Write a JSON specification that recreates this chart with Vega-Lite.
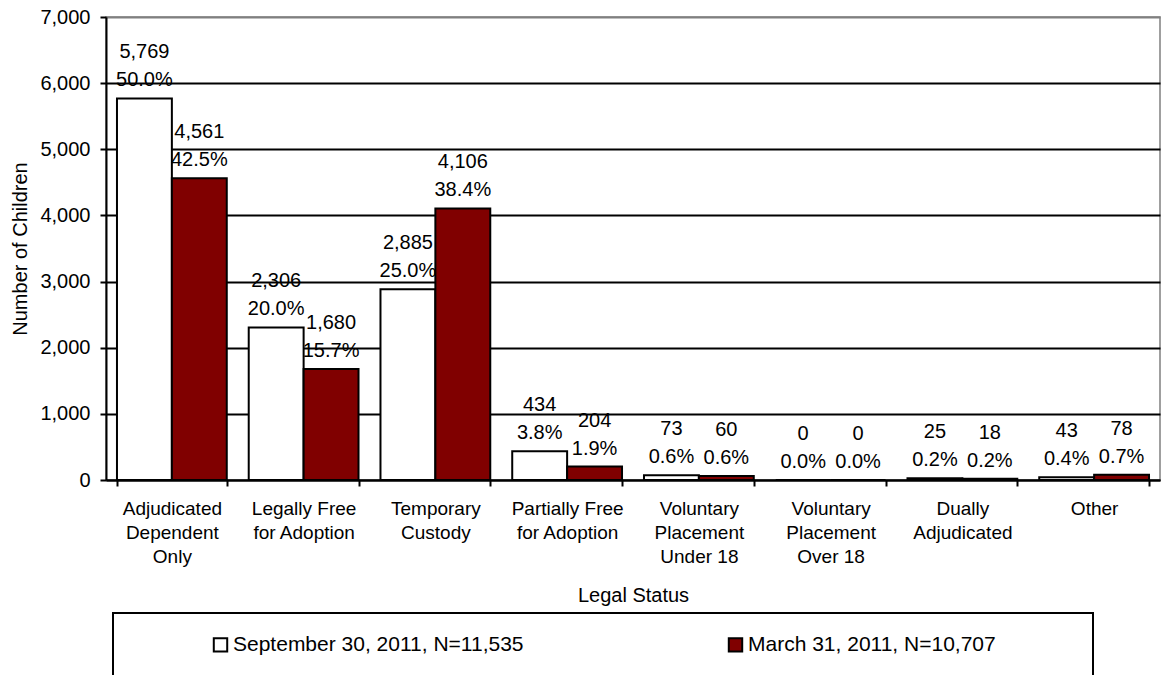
{
  "$schema": "https://vega.github.io/schema/vega-lite/v6.json",
  "width": 1054,
  "height": 463,
  "autosize": {"type": "none"},
  "padding": {"left": 106, "top": 17, "right": 2, "bottom": 195},
  "background": "white",
  "config": {
    "font": "Liberation Sans",
    "view": {"stroke": "#808080", "strokeWidth": 1.5},
    "legend": {"strokeWidth": 2}
  },
  "data": {
    "values": [
      {"status": "Adjudicated\nDependent\nOnly", "series": "September 30, 2011, N=11,535", "count": 5769, "pct": 0.500},
      {"status": "Adjudicated\nDependent\nOnly", "series": "March 31, 2011, N=10,707", "count": 4561, "pct": 0.425},
      {"status": "Legally Free\nfor Adoption", "series": "September 30, 2011, N=11,535", "count": 2306, "pct": 0.200},
      {"status": "Legally Free\nfor Adoption", "series": "March 31, 2011, N=10,707", "count": 1680, "pct": 0.157},
      {"status": "Temporary\nCustody", "series": "September 30, 2011, N=11,535", "count": 2885, "pct": 0.250},
      {"status": "Temporary\nCustody", "series": "March 31, 2011, N=10,707", "count": 4106, "pct": 0.384},
      {"status": "Partially Free\nfor Adoption", "series": "September 30, 2011, N=11,535", "count": 434, "pct": 0.038},
      {"status": "Partially Free\nfor Adoption", "series": "March 31, 2011, N=10,707", "count": 204, "pct": 0.019},
      {"status": "Voluntary\nPlacement\nUnder 18", "series": "September 30, 2011, N=11,535", "count": 73, "pct": 0.006},
      {"status": "Voluntary\nPlacement\nUnder 18", "series": "March 31, 2011, N=10,707", "count": 60, "pct": 0.006},
      {"status": "Voluntary\nPlacement\nOver 18", "series": "September 30, 2011, N=11,535", "count": 0, "pct": 0.0},
      {"status": "Voluntary\nPlacement\nOver 18", "series": "March 31, 2011, N=10,707", "count": 0, "pct": 0.0},
      {"status": "Dually\nAdjudicated", "series": "September 30, 2011, N=11,535", "count": 25, "pct": 0.002},
      {"status": "Dually\nAdjudicated", "series": "March 31, 2011, N=10,707", "count": 18, "pct": 0.002},
      {"status": "Other", "series": "September 30, 2011, N=11,535", "count": 43, "pct": 0.004},
      {"status": "Other", "series": "March 31, 2011, N=10,707", "count": 78, "pct": 0.007}
    ]
  },
  "encoding": {
    "x": {
      "field": "status",
      "type": "nominal",
      "sort": null,
      "scale": {"paddingInner": 0.1667, "paddingOuter": 0.0833},
      "axis": {
        "title": "Legal Status",
        "titleFontSize": 20,
        "titleFontWeight": "normal",
        "titleColor": "black",
        "titlePadding": 19,
        "labelAngle": 0,
        "labelFontSize": 19,
        "labelColor": "black",
        "labelLineHeight": 24,
        "labelPadding": 13,
        "labelExpr": "split(datum.label, '\\n')",
        "domainColor": "black",
        "domainWidth": 2,
        "tickColor": "black",
        "tickWidth": 2,
        "tickSize": 6,
        "tickBand": "extent"
      }
    },
    "xOffset": {
      "field": "series",
      "type": "nominal",
      "sort": ["September 30, 2011, N=11,535", "March 31, 2011, N=10,707"]
    },
    "y": {
      "field": "count",
      "type": "quantitative",
      "scale": {"domain": [0, 7000], "nice": false},
      "axis": {
        "title": "Number of Children",
        "titleFontSize": 20,
        "titleFontWeight": "normal",
        "titleColor": "black",
        "titlePadding": 9,
        "values": [0, 1000, 2000, 3000, 4000, 5000, 6000, 7000],
        "format": ",.0f",
        "labelFontSize": 20,
        "labelColor": "black",
        "labelPadding": 10,
        "domainColor": "black",
        "domainWidth": 2,
        "tickColor": "black",
        "tickWidth": 2,
        "tickSize": 6,
        "gridColor": {"condition": {"test": "datum.value === 7000", "value": "#808080"}, "value": "black"},
        "gridWidth": 2,
        "gridOpacity": 1
      }
    }
  },
  "layer": [
    {
      "mark": {"type": "bar", "stroke": "black", "strokeWidth": 2},
      "encoding": {
        "fill": {
          "field": "series",
          "type": "nominal",
          "sort": ["September 30, 2011, N=11,535", "March 31, 2011, N=10,707"],
          "scale": {"domain": ["September 30, 2011, N=11,535", "March 31, 2011, N=10,707"], "range": ["white", "#800000"]},
          "legend": {
            "title": " ",
            "titleOrient": "right",
            "titleFontSize": 1,
            "titlePadding": 76,
            "orient": "none",
            "legendX": 7,
            "legendY": 596,
            "direction": "horizontal",
            "columns": 2,
            "strokeColor": "black",
            "padding": 21,
            "symbolType": "square",
            "symbolSize": 180,
            "symbolStrokeColor": "black",
            "symbolStrokeWidth": 2,
            "symbolOffset": 76,
            "labelFontSize": 21,
            "labelColor": "black",
            "labelLimit": 600,
            "labelOffset": 2,
            "columnPadding": 125
          }
        }
      }
    },
    {
      "mark": {"type": "text", "fontSize": 20, "color": "black", "baseline": "middle", "dy": -46},
      "encoding": {
        "text": {"field": "count", "type": "quantitative", "format": ","}
      }
    },
    {
      "mark": {"type": "text", "fontSize": 20, "color": "black", "baseline": "middle", "dy": -18},
      "encoding": {
        "text": {"field": "pct", "type": "quantitative", "format": ".1%"}
      }
    }
  ]
}
